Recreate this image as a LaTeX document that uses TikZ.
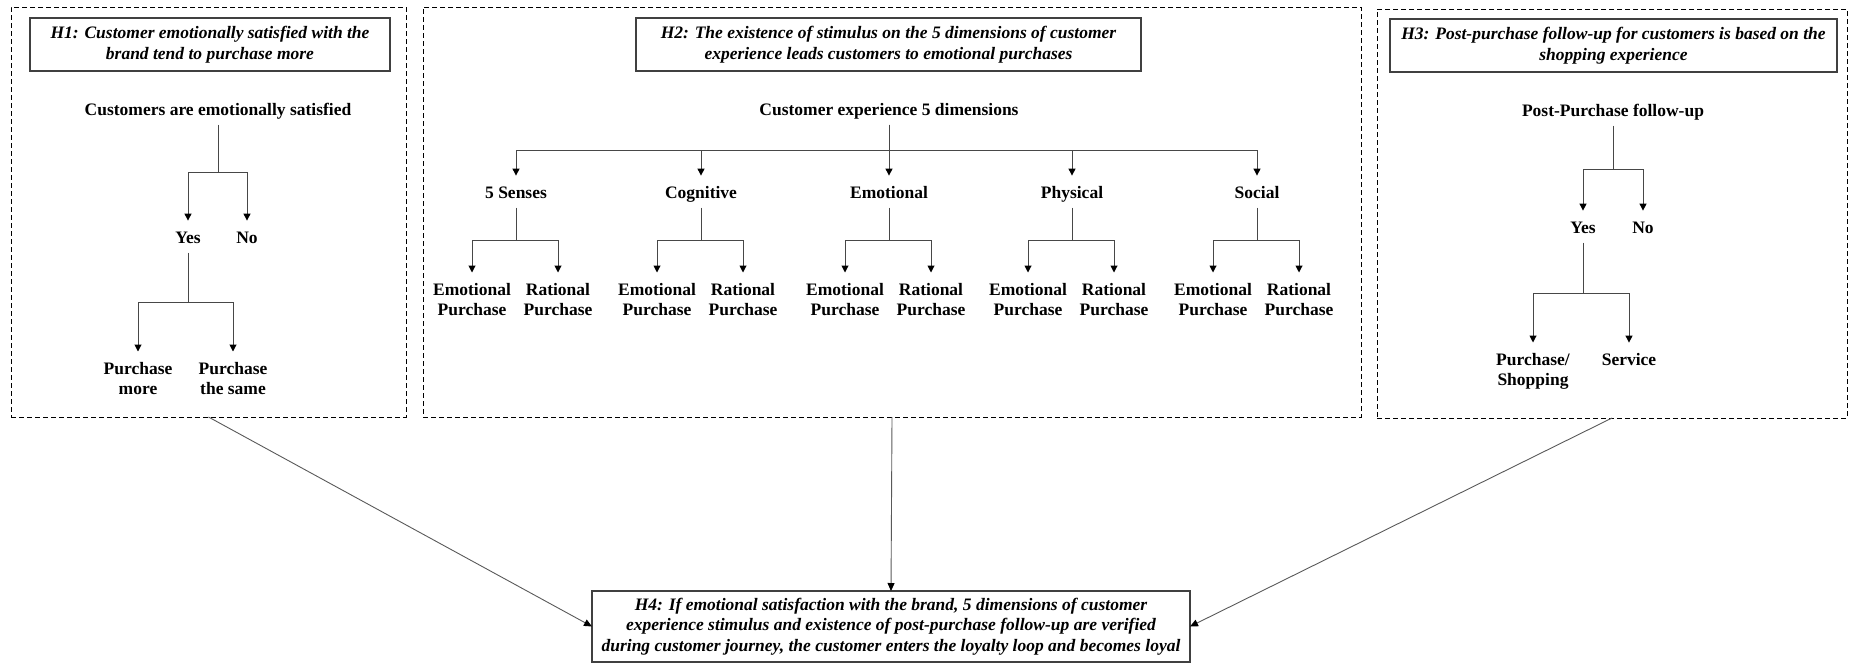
\documentclass[tikz,border=0pt]{standalone}
\usepackage{fontspec}
\setmainfont{Liberation Serif}
\usetikzlibrary{arrows.meta}
\newcommand\dfont{\fontsize{17.5pt}{20.7pt}\selectfont}
\begin{document}
\begin{tikzpicture}[x=1pt,y=-1pt,
  lbl/.style={font=\dfont\bfseries, inner sep=0pt, outer sep=0pt, text height=11.9pt, text depth=3.8pt, anchor=base},
  lbltwo/.style={font=\dfont\bfseries, inner sep=0pt, outer sep=0pt, align=center, anchor=north},
  hyp/.style={draw=black!75, line width=1.5pt, font=\dfont\bfseries\itshape, align=center, inner sep=0pt, outer sep=0pt},
  grp/.style={draw=black, line width=1pt, dash pattern=on 5pt off 3pt, inner sep=0pt, outer sep=0pt},
  tree/.style={draw=black!72, line width=1pt, shorten <=6pt, shorten >=10.5pt, -{Triangle[length=7pt,width=7pt,color=black]}},
  link/.style={draw=black!65, line width=0.9pt, -{Triangle[length=8pt,width=7pt,color=black]}}
]
\useasboundingbox (0,0) rectangle (1849,664);

% group frames
\node[grp, minimum width=395pt, minimum height=410pt] (g1) at (208.5,212) {};
\node[grp, minimum width=938pt, minimum height=410pt] (g2) at (892,212) {};
\node[grp, minimum width=470pt, minimum height=409pt] (g3) at (1612,213.5) {};

% hypothesis boxes
\node[hyp, minimum width=360pt, minimum height=53pt] (h1) at (210,44.5) {H1: Customer emotionally satisfied with the\\brand tend to purchase more};
\node[hyp, minimum width=505pt, minimum height=53pt] (h2) at (888.5,44.5) {H2: The existence of stimulus on the 5 dimensions of customer\\experience leads customers to emotional purchases};
\node[hyp, minimum width=447pt, minimum height=53pt] (h3) at (1613.5,45.5) {H3: Post-purchase follow-up for customers is based on the\\shopping experience};
\node[hyp, minimum width=598pt, minimum height=71pt] (h4) at (891,626.5) {H4: If emotional satisfaction with the brand, 5 dimensions of customer\\experience stimulus and existence of post-purchase follow-up are verified\\during customer journey, the customer enters the loyalty loop and becomes loyal};

% ---- H1 tree
\node[lbl] (r1) at (218,115) {Customers are emotionally satisfied};
\node[lbl] (y1) at (188,243) {Yes};
\node[lbl] (n1) at (247,243) {No};
\node[lbltwo] (pm) at (138,362) {Purchase\\more};
\node[lbltwo] (ps) at (233,362) {Purchase\\the same};
\coordinate (j1) at (218,172);
\coordinate (k1) at (188,302);
\draw[tree] (r1) -- (j1) -| (y1);
\draw[tree] (r1) -- (j1) -| (n1);
\draw[tree] (y1) -- (k1) -| (pm);
\draw[tree] (y1) -- (k1) -| (ps);

% ---- H2 tree
\node[lbl] (r2) at (889,115) {Customer experience 5 dimensions};
\coordinate (j2) at (889,150);
\foreach \nm/\x/\t in {sa/516/5 Senses, sb/701/Cognitive, sc/889/Emotional, sd/1072/Physical, se/1257/Social}{
  \node[lbl] (\nm) at (\x,198) {\t};
  \draw[tree] (r2) -- (j2) -| (\nm);
  \coordinate (\nm j) at (\x,240);
  \node[lbltwo] (\nm e) at (\x-44,283) {Emotional\\Purchase};
  \node[lbltwo] (\nm r) at (\x+42,283) {Rational\\Purchase};
  \draw[tree] (\nm) -- (\nm j) -| (\nm e);
  \draw[tree] (\nm) -- (\nm j) -| (\nm r);
}

% ---- H3 tree
\node[lbl] (r3) at (1613,116) {Post-Purchase follow-up};
\node[lbl] (y3) at (1583,233) {Yes};
\node[lbl] (n3) at (1643,233) {No};
\node[lbltwo] (psh) at (1533,353) {Purchase/\\Shopping};
\node[lbl] (sv) at (1629,365) {Service};
\coordinate (j3) at (1613,169);
\coordinate (k3) at (1583,293);
\draw[tree] (r3) -- (j3) -| (y3);
\draw[tree] (r3) -- (j3) -| (n3);
\draw[tree] (y3) -- (k3) -| (psh);
\draw[tree] (y3) -- (k3) -| (sv);

% ---- links to H4
\draw[link] (g1.south) -- (h4.west);
\draw[link] (g2.south) -- (h4.north);
\draw[link] (g3.south) -- (h4.east);
\end{tikzpicture}
\end{document}
